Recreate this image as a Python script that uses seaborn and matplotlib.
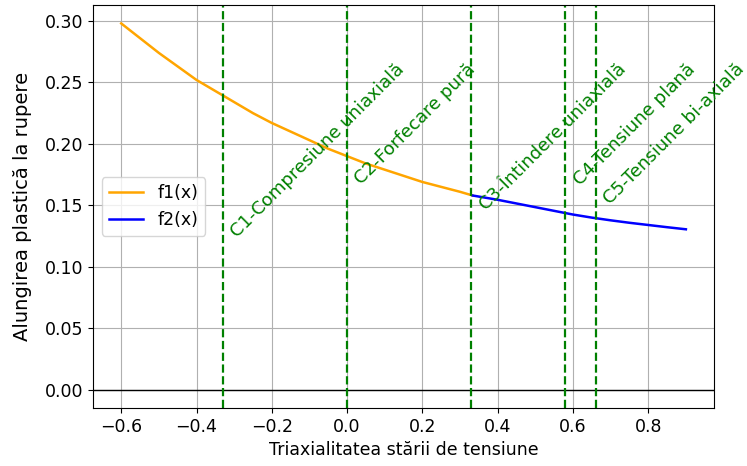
import seaborn as sns
import numpy as np
import pandas as pd
import matplotlib.pyplot as plt

# values
x1 = [-0.6, -0.55, -0.5, -0.45, -0.4, -0.35, -1/3, -0.3, -0.25, -0.2, -0.15,
      -0.1, -0.05, 0.0, 0.05, 0.1, 0.15, 0.2, 0.25, 0.3, 1/3]
y1 = [0.298, 0.286, 0.274, 0.263, 0.252, 0.243, 0.240, 0.234, 0.225, 0.217, 0.210,
      0.203, 0.196, 0.190, 0.184, 0.179, 0.174, 0.169, 0.165, 0.161, 0.158]
x2 = [1/3, 0.4, 0.45, 0.5, 0.55, 0.6, 0.65, 0.7, 0.75, 0.8, 0.85, 0.9]
y2 = [0.158, 0.1545, 0.1515, 0.1485, 0.1455, 0.1425, 0.1400, 0.1378, 0.1358,
      0.1340, 0.1322, 0.1305]

cases_x = [-0.33, 0.0, 0.33, 0.58, 0.66]
cases_lbl = ['C1-Compresiune uniaxială', 'C2-Forfecare pură', 'C3-Întindere uniaxială',
             'C4-Tensiune plană', 'C5-Tensiune bi-axială']

if __name__ == '__main__':
    plt.rcParams['font.size'] = 12.5
    fig, ax = plt.subplots(figsize=(7.47, 4.66), dpi=100)
    fig.subplots_adjust(left=0.1245, right=0.956, top=0.989, bottom=0.1245)

    sns.lineplot(x=x1, y=y1, color='orange', label='f1(x)', linewidth=1.8, ax=ax)
    sns.lineplot(x=x2, y=y2, color='blue', label='f2(x)', linewidth=1.8, ax=ax)

    ax.axhline(0, color='black', linewidth=1)
    for cx, lbl in zip(cases_x, cases_lbl):
        ax.axvline(cx, color='green', linestyle='--', linewidth=1.6)
        ax.text(cx + 0.012, 0.268, lbl, rotation=45, color='green', fontsize=13,
                ha='left', va='top')

    ax.grid(True)
    ax.set_xlabel('Triaxialitatea stării de tensiune')
    ax.set_ylabel('Alungirea plastică la rupere', fontsize=14, labelpad=9)
    ax.legend(loc='center left')

    plt.savefig('out.png')
